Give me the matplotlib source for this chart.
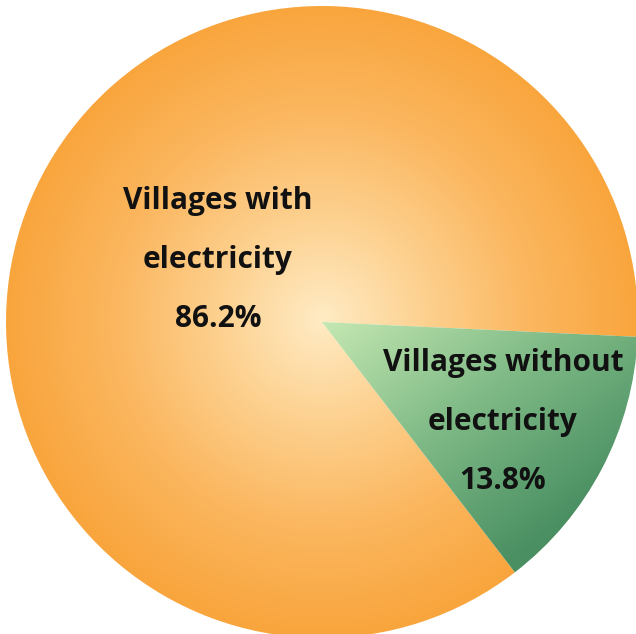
import matplotlib
matplotlib.use("Agg")
import matplotlib.pyplot as plt
import numpy as np
from matplotlib.colors import LinearSegmentedColormap

# data
labels = ["Villages with\nelectricity\n86.2%", "Villages without\nelectricity\n13.8%"]
shares = [86.2, 13.8]

W, H = 636, 634
cx, cy, r = 322, 312, 316

fig = plt.figure(figsize=(W / 100, H / 100), dpi=100)
ax = fig.add_axes([0, 0, 1, 1])
ax.set_xlim(0, W)
ax.set_ylim(0, H)

wedges, _ = ax.pie(shares, startangle=-2.7, center=(cx, cy), radius=r,
                   colors=["none", "none"], frame=True,
                   wedgeprops=dict(linewidth=0))
ax.set_xlim(0, W)
ax.set_ylim(0, H)
ax.set_aspect("equal")
ax.axis("off")

# orange radial gradient
yy, xx = np.mgrid[0:H, 0:W]
dist = np.hypot(xx - 322, yy - (H - 320)) / r
orange = LinearSegmentedColormap.from_list(
    "o", ["#ffebc4", "#fdd08e", "#fbb65e", "#f9a53d"])
im1 = ax.imshow(np.clip(dist, 0, 1), cmap=orange, vmin=0, vmax=1,
                extent=(0, W, 0, H), origin="lower", zorder=1)
im1.set_clip_path(wedges[0])

# green linear gradient, light top-left to dark bottom-right
t = ((xx - 330) * 0.6 + ((H - 323) - yy) * 0.8) / 300
green = LinearSegmentedColormap.from_list("g", ["#c2e6b0", "#7fba86", "#4a8f62"])
im2 = ax.imshow(np.clip(t, 0, 1), cmap=green, vmin=0, vmax=1,
                extent=(0, W, 0, H), origin="lower", zorder=1)
im2.set_clip_path(wedges[1])

font = dict(family="Open Sans", fontweight="bold", fontsize=21.5,
            color="#111111", ha="center", va="center", linespacing=2.25, zorder=3)
ax.text(218, H - 260, labels[0], **font)
ax.text(503, H - 422, labels[1], **font)

fig.savefig("out.png", dpi=100, facecolor="white")
